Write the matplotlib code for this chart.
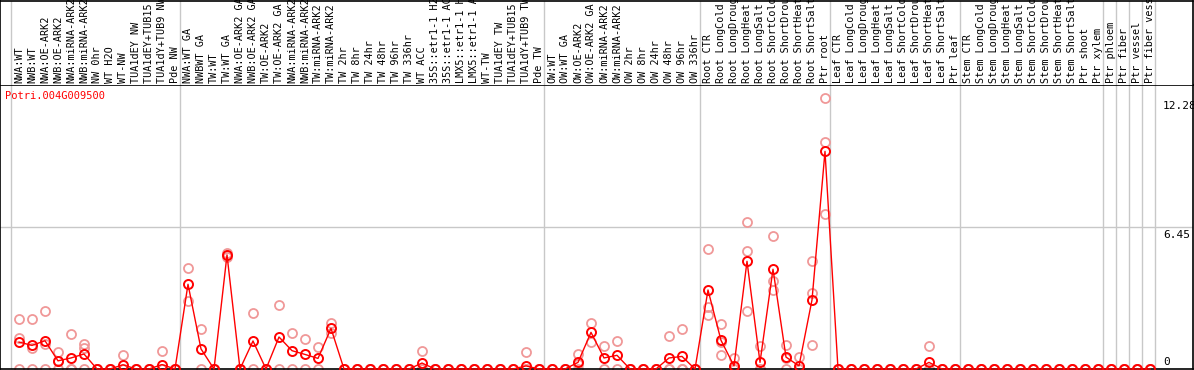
import numpy as np
import matplotlib
matplotlib.use('Agg')
import matplotlib.pyplot as plt

gene = 'Potri.004G009500'

# samples, grouped (gray separators after each group)
group_sizes = [13, 28, 12, 10, 10, 11, 1, 1, 1, 1]
labels = [
    # NW
    'NWA:WT', 'NWB:WT', 'NWA:OE-ARK2', 'NWB:OE-ARK2', 'NWA:miRNA-ARK2',
    'NWB:miRNA-ARK2', 'NW 0hr', 'WT H2O', 'WT-NW', 'TUA1dEY NW',
    'TUA1dEY+TUB15 NW', 'TUA1dY+TUB9 NW', 'Pde NW',
    # TW
    'NWA:WT GA', 'NWBWT GA', 'TW:WT', 'TW:WT GA', 'NWA:OE-ARK2 GA',
    'NWB:OE-ARK2 GA', 'TW:OE-ARK2', 'TW:OE-ARK2 GA', 'NWA:miRNA-ARK2',
    'NWB:miRNA-ARK2', 'TW:miRNA-ARK2', 'TW:miRNA-ARK2', 'TW 2hr', 'TW 8hr',
    'TW 24hr', 'TW 48hr', 'TW 96hr', 'TW 336hr', 'WT ACC', '35S::etr1-1 H2O',
    '35S::etr1-1 ACC', 'LMX5::etr1-1 H2O', 'LMX5::etr1-1 ACC', 'WT-TW',
    'TUA1dEY TW', 'TUA1dEY+TUB15 TW', 'TUA1dY+TUB9 TW', 'Pde TW',
    # OW
    'OW:WT', 'OW:WT GA', 'OW:OE-ARK2', 'OW:OE-ARK2 GA', 'OW:miRNA-ARK2',
    'OW:miRNA-ARK2', 'OW 2hr', 'OW 8hr', 'OW 24hr', 'OW 48hr', 'OW 96hr',
    'OW 336hr',
    # root
    'Root CTR', 'Root LongCold', 'Root LongDrought', 'Root LongHeat',
    'Root LongSalt', 'Root ShortCold', 'Root ShortDrought', 'Root ShortHeat',
    'Root ShortSalt', 'Ptr root',
    # leaf
    'Leaf CTR', 'Leaf LongCold', 'Leaf LongDrought', 'Leaf LongHeat',
    'Leaf LongSalt', 'Leaf ShortCold', 'Leaf ShortDrought', 'Leaf ShortHeat',
    'Leaf ShortSalt', 'Ptr leaf',
    # stem
    'Stem CTR', 'Stem LongCold', 'Stem LongDrought', 'Stem LongHeat',
    'Stem LongSalt', 'Stem ShortCold', 'Stem ShortDrought', 'Stem ShortHeat',
    'Stem ShortSalt', 'Ptr shoot', 'Ptr xylem',
    'Ptr phloem', 'Ptr fiber', 'Ptr vessel', 'Ptr fiber vessel',
]

means = [
    1.22, 1.07, 1.28, 0.37, 0.50, 0.68, 0, 0, 0.19, 0, 0, 0.20, 0,
    3.84, 0.91, 0, 5.17, 0, 1.27, 0, 1.45, 0.83, 0.66, 0.48, 1.84,
    0, 0, 0, 0, 0, 0, 0.27, 0, 0, 0, 0, 0, 0, 0, 0.14, 0,
    0, 0, 0.30, 1.66, 0.50, 0.62, 0, 0, 0, 0.50, 0.57, 0,
    3.58, 1.30, 0.14, 4.88, 0.30, 4.52, 0.54, 0.14, 3.13, 9.86,
    0, 0, 0, 0, 0, 0, 0, 0.30, 0, 0,
    0, 0, 0, 0, 0, 0, 0, 0, 0, 0, 0,
    0, 0, 0, 0,
]

reps = [
    [2.25, 1.39, 0], [2.25, 0.97, 0], [2.61, 1.15, 0], [0.77, 0.35, 0],
    [1.57, 0, 0], [1.15, 0.97, 0], [0, 0, 0], [0, 0, 0], [0.62, 0, 0],
    [0, 0, 0], [0, 0, 0], [0.82, 0, 0], [0, 0, 0],
    [4.56, 3.10], [1.80, 0], [0, 0, 0], [5.27, 5.06], [0, 0], [2.54, 0],
    [0, 0], [2.90, 0], [1.62, 0], [1.36, 0], [1.00, 0], [2.08, 1.62],
    [0, 0, 0], [0, 0, 0], [0, 0, 0], [0, 0, 0], [0, 0, 0], [0, 0, 0],
    [0.82, 0, 0], [0, 0, 0], [0, 0, 0], [0, 0, 0], [0, 0, 0], [0, 0, 0],
    [0, 0, 0], [0, 0, 0], [0.77, 0, 0], [0, 0, 0],
    [0, 0, 0], [0, 0, 0], [0.68, 0.22, 0], [2.07, 1.22], [1.03, 0],
    [1.25, 0], [0, 0, 0], [0, 0, 0], [0, 0, 0], [1.48, 0, 0], [1.81, 0, 0],
    [0, 0, 0],
    [5.42, 2.79, 2.46], [2.02, 1.22, 0.62], [0.50, 0, 0], [6.65, 5.33, 2.61],
    [1.03, 0, 0], [6.01, 3.97, 3.60], [1.09, 0.52, 0], [0.53, 0, 0],
    [4.88, 3.44, 1.09], [12.28, 10.27, 7.02],
    [0, 0, 0], [0, 0, 0], [0, 0, 0], [0, 0, 0], [0, 0, 0], [0, 0, 0],
    [0, 0, 0], [1.03, 0, 0], [0, 0, 0], [0, 0, 0],
    [0, 0, 0], [0, 0, 0], [0, 0, 0], [0, 0, 0], [0, 0, 0], [0, 0, 0],
    [0, 0, 0], [0, 0, 0], [0, 0, 0], [0, 0, 0], [0, 0, 0],
    [0, 0, 0], [0, 0, 0], [0, 0, 0], [0, 0, 0],
]

y_ticks = [12.28, 6.45, 0]
y_tick_labels = ['12.28', '6.45', '0']

W, H = 1194, 370
MONO = 'DejaVu Sans Mono'
GRID = '#c8c8c8'
PINK = '#f09898'

fig = plt.figure(figsize=(W / 100, H / 100), dpi=100)
x = np.arange(len(labels))
xlim = (-19 / 13, (1193 - 19) / 13)

ax = fig.add_axes([0, 1 / H, 1193 / W, 284 / H])
top = fig.add_axes([0, 285 / H, 1193 / W, 84.5 / H])

for a in (ax, top):
    a.set_xlim(*xlim)
    a.set_xticks([])
    a.set_yticks([])
    for s in a.spines.values():
        s.set_color('black')
        s.set_linewidth(1.2)
top.spines['bottom'].set_visible(False)
top.set_ylim(0, 85)
ax.set_ylim(0, 284 / 22.07)

# group separators
seps = np.concatenate([[-1], np.cumsum(group_sizes) - 1]) + 0.42
for s in seps:
    ax.axvline(s, color=GRID, lw=1, zorder=0)
    top.axvline(s, color=GRID, lw=1, zorder=0)

ax.axhline(y_ticks[1], color=GRID, lw=1, zorder=0)

# replicates
for i, r in enumerate(reps):
    ax.plot([x[i]] * len(r), r, 'o', ms=6.5, mfc='none', mec=PINK, mew=1.3,
            clip_on=False, zorder=2)

# mean line
ax.plot(x, means, '-', color='red', lw=1.0, clip_on=False, zorder=3)
ax.plot(x, means, 'o', ms=6.5, mfc='none', mec='red', mew=1.4,
        clip_on=False, zorder=4)

# right side value labels
lx = (1163 - 19) / 13
for v, t in zip(y_ticks, y_tick_labels):
    va = 'bottom' if v == 0 else 'top'
    off = 0.1 if v == 0 else -0.15
    ax.text(lx, v + off, t, fontsize=8, family=MONO, va=va, ha='left')

# sample labels
for i, lab in enumerate(labels):
    top.text(x[i], 2, lab, rotation=90, ha='center', va='bottom',
             fontsize=7.3, family=MONO, clip_on=False)

fig.text(5 / W, 1 - 91 / H, gene, color='red', fontsize=7.5, family=MONO,
         va='top', ha='left')

fig.savefig('out.png', dpi=100)
